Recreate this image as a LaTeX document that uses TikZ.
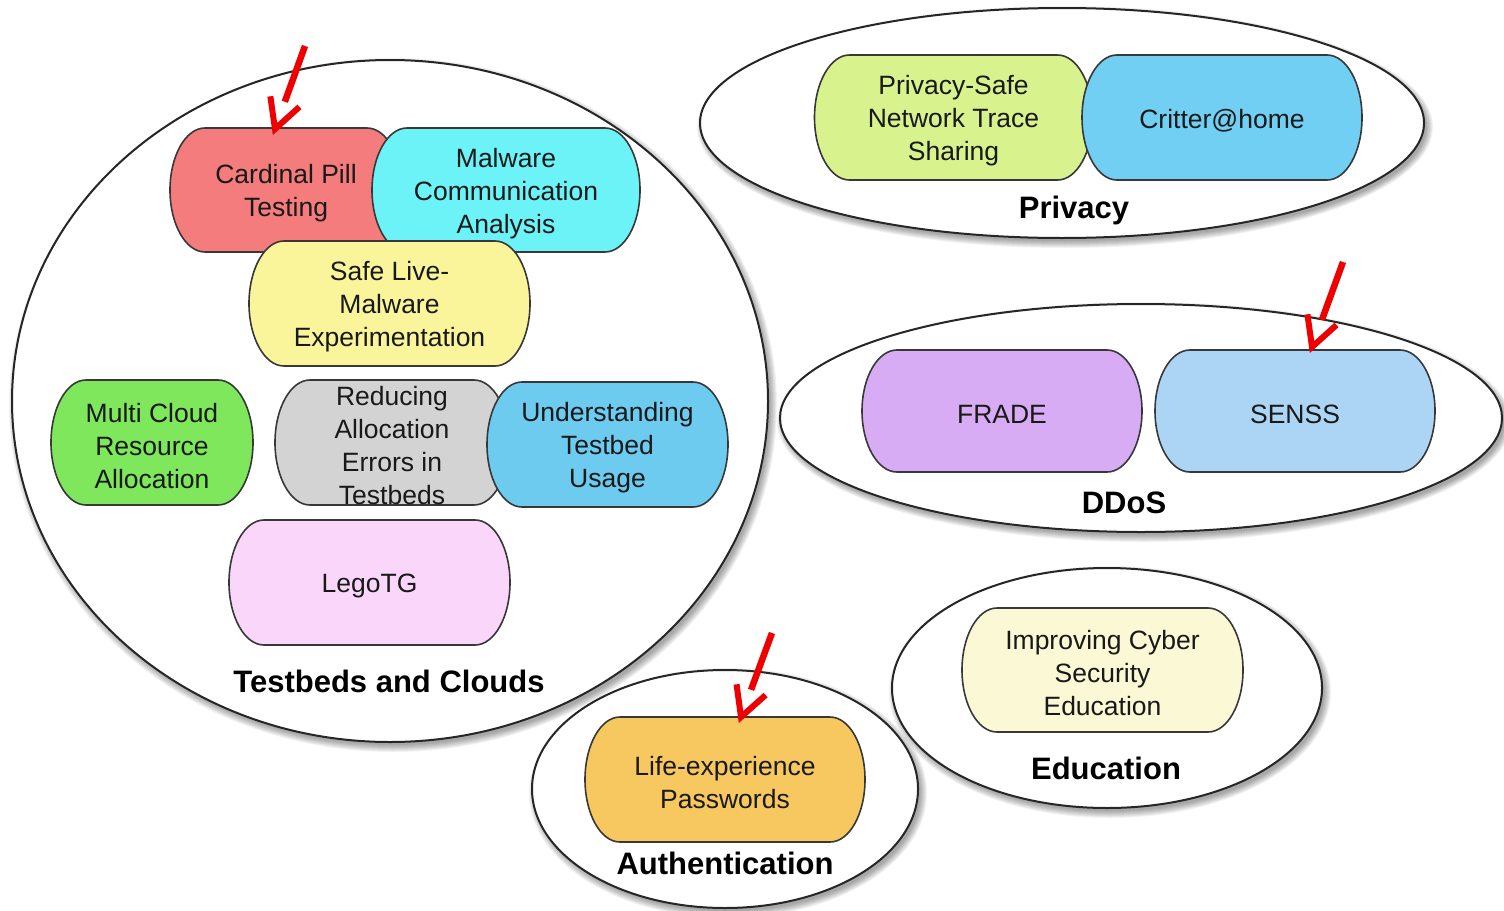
\documentclass[tikz,border=0pt]{standalone}
\usepackage{fontspec}
\setmainfont{Liberation Sans}
\usetikzlibrary{shapes.geometric,calc}

\definecolor{cardinalfill}{RGB}{244,124,124}
\definecolor{malwarefill}{RGB}{108,243,248}
\definecolor{safelivefill}{RGB}{250,245,155}
\definecolor{multicloudfill}{RGB}{126,231,92}
\definecolor{reducingfill}{RGB}{211,211,211}
\definecolor{understandfill}{RGB}{109,203,240}
\definecolor{legotgfill}{RGB}{250,214,250}
\definecolor{privsafefill}{RGB}{216,242,142}
\definecolor{critterfill}{RGB}{112,207,243}
\definecolor{fradefill}{RGB}{215,172,244}
\definecolor{senssfill}{RGB}{172,213,245}
\definecolor{improvingfill}{RGB}{251,248,213}
\definecolor{lifeexpfill}{RGB}{247,200,96}
\definecolor{pointerred}{RGB}{238,0,0}

\tikzset{
  groupshape/.style={ellipse, draw=black!85, line width=2pt, fill=white, inner sep=0pt},
  pillline/.style={draw=black!78, line width=1.6pt},
  pilltext/.style={align=center, text=black!90, font=\fontsize{26.5}{33}\selectfont, inner sep=0pt, yshift=-3.5pt},
  grouplabel/.style={font=\bfseries\fontsize{31}{36}\selectfont, text=black, inner sep=0pt},
  pointer/.style={draw=pointerred, line width=6.5pt},
}

% soft-shadowed white ellipse: name, cx, cy, x radius, y radius
\newcommand\groupell[5]{%
  \foreach \k in {0,...,7}{%
    \fill[black,opacity=0.05] (#2+3,#3+4) ellipse[x radius=#4*1pt+\k*1pt-1pt, y radius=#5*1pt+\k*1pt-1pt];}
  \node[groupshape, minimum width=2*#4*1pt, minimum height=2*#5*1pt] (#1) at (#2,#3) {};}

% pill with half-elliptic ends: name, cx, cy, width, height, fill, text
\newcommand\pill[7]{%
  \draw[pillline, fill=#6] (#2-#4/2+35, #3-#5/2) -- (#2+#4/2-35, #3-#5/2)
    arc[start angle=90, end angle=-90, x radius=35pt, y radius=#5*0.5pt]
    -- (#2-#4/2+35, #3+#5/2)
    arc[start angle=270, end angle=90, x radius=35pt, y radius=#5*0.5pt] -- cycle;
  \node[pilltext] (#1) at (#2,#3) {#7};}

% red pointer: tail coordinate, tip coordinate
\newcommand\pointto[2]{%
  \draw[pointer] (#1) -- ($(#2)!29pt!(#1)$);
  \draw[pointer, line width=6pt, line join=miter] ($(#2)!33pt!28:(#1)$) -- (#2) -- ($(#2)!33pt!-28:(#1)$);}

\begin{document}
\begin{tikzpicture}[x=1pt, y=-1pt]
\useasboundingbox (0,0) rectangle (1504,910);

% Testbeds and Clouds
\groupell{testbeds}{390}{401}{378}{341}
\pill{cardinal}{286}{190}{232}{124}{cardinalfill}{Cardinal Pill\\Testing}
\pill{malware}{506}{190}{268}{124}{malwarefill}{Malware\\Communication\\Analysis}
\pill{safelive}{389.5}{303.5}{281}{125}{safelivefill}{Safe Live-\\Malware\\Experimentation}
\pill{multicloud}{152}{442.5}{202}{125}{multicloudfill}{Multi Cloud\\Resource\\Allocation}
\pill{reducing}{392}{442.5}{234}{125}{reducingfill}{Reducing\\Allocation\\Errors in\\Testbeds}
\pill{understanding}{607.5}{444.5}{241}{125}{understandfill}{Understanding\\Testbed\\Usage}
\pill{legotg}{369.5}{582.5}{281}{125}{legotgfill}{LegoTG}
\node[grouplabel] (testbedslabel) at (389,681) {Testbeds and Clouds};

% Privacy
\groupell{privacy}{1062}{123}{362}{115}
\pill{privsafe}{953.5}{117.5}{278}{125}{privsafefill}{Privacy-Safe\\Network Trace\\Sharing}
\pill{critter}{1222}{117.5}{280}{125}{critterfill}{Critter@home}
\node[grouplabel] (privacylabel) at (1074,210.5) {Privacy};

% DDoS
\groupell{ddos}{1141}{418}{361}{114}
\pill{frade}{1002}{411}{280}{122}{fradefill}{FRADE}
\pill{senss}{1295}{411}{280}{122}{senssfill}{SENSS}
\node[grouplabel] (ddoslabel) at (1124,502.5) {DDoS};

% Education
\groupell{education}{1107}{688}{215}{120}
\pill{improving}{1102.5}{670}{281}{124}{improvingfill}{Improving Cyber\\Security\\Education}
\node[grouplabel] (educationlabel) at (1106,768.5) {Education};

% Authentication
\groupell{authentication}{725}{789}{193}{119}
\pill{lifeexp}{725}{779.5}{280}{125}{lifeexpfill}{Life-experience\\Passwords}
\node[grouplabel] (authlabel) at (725,863.5) {Authentication};

% pointers
\coordinate (cardinaltail) at (305,46);
\coordinate (cardinaltip) at (275,129);
\coordinate (sensstail) at (1343,262);
\coordinate (senssttip) at (1312,347);
\coordinate (lifeexptail) at (772,633);
\coordinate (lifeexptip) at (741,717);
\pointto{cardinaltail}{cardinaltip}
\pointto{sensstail}{senssttip}
\pointto{lifeexptail}{lifeexptip}
\end{tikzpicture}
\end{document}
